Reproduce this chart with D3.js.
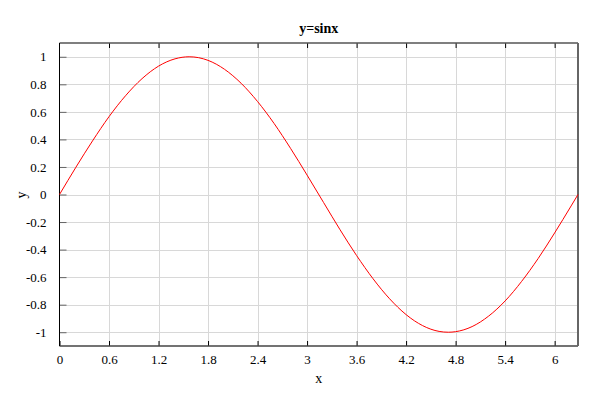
<!DOCTYPE html>
<html><head><meta charset="utf-8">
<script src="https://cdn.jsdelivr.net/npm/d3@7"></script>
<style>body{margin:0;background:#fff}text{font-family:"Liberation Serif","Times New Roman",serif}</style>
</head><body><svg id="c" width="600" height="400"></svg>
<script>
const xs = [0,0.2,0.4,0.6,0.8,1.0,1.2,1.4,1.5708,1.8,2.0,2.2,2.4,2.6,2.8,3.0,3.2,3.4,3.6,3.8,4.0,4.2,4.4,4.6,4.7124,4.8,5.0,5.2,5.4,5.6,5.8,6.0,6.2,6.2832];
const ys = [0,0.199,0.389,0.565,0.717,0.841,0.932,0.985,1.0,0.974,0.909,0.808,0.675,0.516,0.335,0.141,-0.058,-0.256,-0.443,-0.612,-0.757,-0.872,-0.952,-0.994,-1.0,-0.996,-0.959,-0.883,-0.773,-0.631,-0.465,-0.279,-0.083,0];
const xTicks = [0,0.6,1.2,1.8,2.4,3,3.6,4.2,4.8,5.4,6];
const yTicks = [-1,-0.8,-0.6,-0.4,-0.2,0,0.2,0.4,0.6,0.8,1];
const title = "y=sinx", xLabel = "x", yLabel = "y";

const L=59.5,R=578,T=43,B=346;
const svg=d3.select("#c");
const x=d3.scaleLinear().domain([0,6.2832]).range([L,R]);
const y=d3.scaleLinear().domain([-1.1,1.1]).range([B,T]);
const fmt=d=>String(d);

// grid
svg.append("g").selectAll("line").data(xTicks.slice(1)).join("line")
  .attr("x1",d=>Math.round(x(d))+0.5).attr("x2",d=>Math.round(x(d))+0.5).attr("y1",T).attr("y2",B)
  .attr("stroke","#d8d8d8");
svg.append("g").selectAll("line").data(yTicks).join("line")
  .attr("y1",d=>Math.round(y(d))+0.5).attr("y2",d=>Math.round(y(d))+0.5).attr("x1",L).attr("x2",R)
  .attr("stroke","#d8d8d8");

// axes
const ax=svg.append("g").attr("transform",`translate(0,${B})`)
  .call(d3.axisBottom(x).tickValues(xTicks).tickFormat(fmt).tickSizeInner(-5).tickSizeOuter(0).tickPadding(9));
ax.select(".domain").remove();
ax.selectAll("line").attr("stroke","#000");
ax.selectAll("text").attr("font-size",13).attr("fill","#000");
const at=svg.append("g").attr("transform",`translate(0,${T})`)
  .call(d3.axisTop(x).tickValues(xTicks.slice(1)).tickFormat("").tickSizeInner(-5).tickSizeOuter(0));
at.select(".domain").remove();
at.selectAll("line").attr("stroke","#000");
const ay=svg.append("g").attr("transform",`translate(${L},0)`)
  .call(d3.axisLeft(y).tickValues(yTicks).tickFormat(fmt).tickSizeInner(-7).tickSizeOuter(0).tickPadding(13));
ay.select(".domain").remove();
ay.selectAll("line").attr("stroke","#666");
ay.selectAll("text").attr("font-size",13).attr("fill","#000");

// frame
svg.append("line").attr("x1",L).attr("x2",R).attr("y1",T).attr("y2",T).attr("stroke","#555").attr("stroke-width",1.5);
svg.append("line").attr("x1",L).attr("x2",R).attr("y1",B).attr("y2",B).attr("stroke","#444").attr("stroke-width",1.5);
svg.append("line").attr("x1",L).attr("x2",L).attr("y1",T).attr("y2",B).attr("stroke","#000").attr("stroke-width",1);
svg.append("line").attr("x1",R).attr("x2",R).attr("y1",T).attr("y2",B).attr("stroke","#666").attr("stroke-width",2);

// curve
const pts=xs.map((v,i)=>[v,ys[i]]);
svg.append("path").datum(pts).attr("fill","none").attr("stroke","#ff0000").attr("stroke-width",1)
  .attr("d",d3.line().x(d=>x(d[0])).y(d=>y(d[1])).curve(d3.curveMonotoneX));

// labels
svg.append("text").attr("x",(L+R)/2).attr("y",33).attr("text-anchor","middle").attr("font-size",14).attr("font-weight","bold").text(title);
svg.append("text").attr("x",(L+R)/2).attr("y",383).attr("text-anchor","middle").attr("font-size",14).text(xLabel);
svg.append("text").attr("x",21).attr("y",195).attr("text-anchor","middle").attr("font-size",14).attr("transform","rotate(-90,21,195)").attr("dy","0.35em").text(yLabel);
</script></body></html>
